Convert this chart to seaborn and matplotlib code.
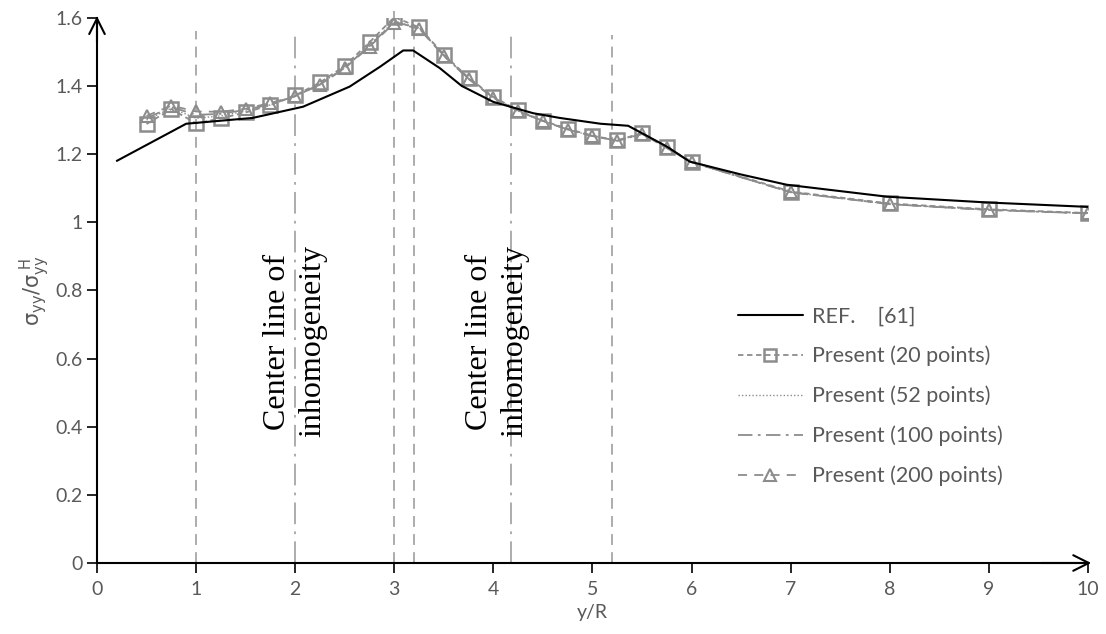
import numpy as np, pandas as pd, matplotlib
matplotlib.use("Agg")
import matplotlib.pyplot as plt
import seaborn as sns

# ---- data ----
ref_x = [0.2, 0.9, 1.57, 2.08, 2.55, 2.86, 3.09, 3.19, 3.46, 3.68, 4.0, 4.4, 4.67, 5.08, 5.36,
         5.75, 5.98, 6.5, 6.96, 7.97, 8.98, 10.0]
ref_y = [1.18, 1.289, 1.306, 1.339, 1.398, 1.457, 1.504, 1.504, 1.452, 1.40, 1.353, 1.32, 1.306,
         1.289, 1.283, 1.222, 1.178, 1.14, 1.11, 1.075, 1.058, 1.045]

pts_x = [0.5, 0.75, 1.0, 1.25, 1.5, 1.75, 2.0, 2.25, 2.5, 2.75, 3.0, 3.25, 3.5, 3.75, 4.0,
         4.25, 4.5, 4.75, 5.0, 5.25, 5.5, 5.75, 6.0, 7.0, 8.0, 9.0, 10.0]
p20_y = [1.288, 1.332, 1.29, 1.305, 1.322, 1.344, 1.372, 1.41, 1.459, 1.528, 1.602, 1.572, 1.492,
         1.424, 1.368, 1.328, 1.298, 1.274, 1.254, 1.24, 1.262, 1.22, 1.178, 1.09, 1.055, 1.038, 1.027]
p52_y = [1.30, 1.335, 1.305, 1.312, 1.326, 1.344, 1.37, 1.405, 1.455, 1.52, 1.59, 1.57, 1.49,
         1.422, 1.366, 1.326, 1.297, 1.272, 1.253, 1.239, 1.26, 1.218, 1.176, 1.088, 1.053, 1.036, 1.026]
p100_y = [1.305, 1.338, 1.315, 1.318, 1.33, 1.346, 1.37, 1.404, 1.453, 1.518, 1.588, 1.569, 1.489,
          1.421, 1.365, 1.326, 1.297, 1.272, 1.253, 1.239, 1.259, 1.218, 1.176, 1.088, 1.053, 1.036, 1.026]
p200_y = [1.312, 1.342, 1.325, 1.324, 1.333, 1.35, 1.37, 1.404, 1.452, 1.515, 1.585, 1.568, 1.488,
          1.42, 1.365, 1.326, 1.297, 1.272, 1.253, 1.239, 1.259, 1.218, 1.176, 1.088, 1.053, 1.036, 1.026]

vline_x = [1.0, 2.0, 3.0, 3.2, 4.18, 5.2]
vline_top = [1.56, 1.56, 1.62, 1.56, 1.55, 1.55]
vline_kind = ["dash", "dashdot", "dash", "dash", "dashdot", "dash"]

note_x = [2.0, 4.04]
note_txt = "Center line of\ninhomogeneity"

# ---- figure ----
sns.set_style("ticks")
plt.rcParams["font.family"] = ["Lato", "DejaVu Sans"]
TXT = "#595959"
GREY = "#8c8c8c"
LGREY = "#a6a6a6"

fig = plt.figure(figsize=(11.06, 6.34), dpi=100)
ax = fig.add_axes([0.0877, 0.112, 0.896, 0.86])

for xv, top, kind in zip(vline_x, vline_top, vline_kind):
    ls = (0, (6, 4)) if kind == "dash" else (0, (12, 4, 1.5, 4))
    ax.vlines(xv, 0, top, colors=LGREY, linestyles=[ls], lw=1.3, zorder=1, clip_on=False)

sns.lineplot(x=ref_x, y=ref_y, ax=ax, color="black", lw=1.5, label="REF.    [61]", zorder=5)
sns.lineplot(x=pts_x, y=p20_y, ax=ax, color=GREY, lw=1.3, linestyle=(0, (3, 2)),
             marker="s", markersize=10, markerfacecolor="none", markeredgecolor=GREY,
             markeredgewidth=1.8, label="Present (20 points)", zorder=4)
sns.lineplot(x=pts_x, y=p52_y, ax=ax, color=GREY, lw=1.0, linestyle=(0, (1, 1.5)),
             label="Present (52 points)", zorder=3)
sns.lineplot(x=pts_x, y=p100_y, ax=ax, color=GREY, lw=1.3, linestyle=(0, (8, 3, 1.5, 3)),
             label="Present (100 points)", zorder=3)
sns.lineplot(x=pts_x, y=p200_y, ax=ax, color=GREY, lw=1.3, linestyle=(0, (5, 4)),
             marker="^", markersize=9, markerfacecolor="none", markeredgecolor=GREY,
             markeredgewidth=1.5, label="Present (200 points)", zorder=4)

for nx in note_x:
    ax.text(nx, 0.65, note_txt, rotation=90, ha="center", va="center", fontsize=23,
            family=["Liberation Serif", "DejaVu Serif"], color="black", linespacing=1.28)

ax.set_xlim(0, 10)
ax.set_ylim(0, 1.6)
ax.set_xticks(np.arange(0, 11, 1))
ax.set_yticks([0, 0.2, 0.4, 0.6, 0.8, 1.0, 1.2, 1.4, 1.6])
ax.set_yticklabels(["0", "0.2", "0.4", "0.6", "0.8", "1", "1.2", "1.4", "1.6"])
ax.tick_params(axis="both", labelsize=14, labelcolor=TXT, color="black", width=1.2, length=7)
ax.tick_params(axis="x", pad=6)
ax.set_xlabel("y/R", fontsize=14, color=TXT, labelpad=4)
ax.set_ylabel(r"$\mathrm{\sigma_{yy}/\sigma_{yy}^{\ H}}$", fontsize=15, color=TXT, labelpad=2)

sns.despine(ax=ax)
for s in ["left", "bottom"]:
    ax.spines[s].set_linewidth(1.5)
    ax.spines[s].set_color("black")

# arrow heads on the axes
ax.annotate("", xy=(1.006, 0), xytext=(0.95, 0), xycoords="axes fraction",
            arrowprops=dict(arrowstyle="->", lw=1.5, color="black", mutation_scale=28))
ax.annotate("", xy=(0, 1.008), xytext=(0, 0.95), xycoords="axes fraction",
            arrowprops=dict(arrowstyle="->", lw=1.5, color="black", mutation_scale=28))

leg = ax.legend(loc="upper left", bbox_to_anchor=(0.647, 0.471), frameon=False, fontsize=15.5,
                handlelength=3.0, handletextpad=0.45, labelspacing=0.9,
                borderpad=0, borderaxespad=0, markerscale=0.9)
for t in leg.get_texts():
    t.set_color(TXT)

fig.savefig("out.png", dpi=100)
